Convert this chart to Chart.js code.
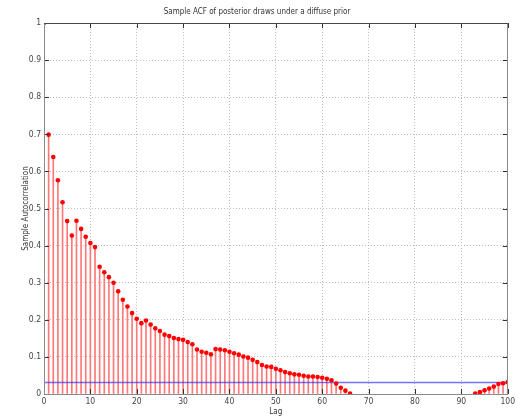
<!DOCTYPE html>
<html>
<head>
<meta charset="utf-8">
<script src="https://cdn.jsdelivr.net/npm/chart.js@4/dist/chart.umd.min.js"></script>
<style>
  html, body { margin: 0; padding: 0; background: #fff; }
  #wrap { width: 518px; height: 418px; }
</style>
</head>
<body>
<div id="wrap"><canvas id="c" width="518" height="418"></canvas></div>
<script>
// Lags 0..100 and the sample autocorrelation at each lag (null where below the axis)
const lags = Array.from({ length: 101 }, (_, i) => i);
const acf = [
  1.000, 0.699, 0.639, 0.576, 0.517, 0.466, 0.427, 0.467, 0.445, 0.424,
  0.407, 0.396, 0.343, 0.328, 0.315, 0.300, 0.277, 0.254, 0.236, 0.218,
  0.203, 0.191, 0.198, 0.187, 0.177, 0.170, 0.160, 0.156, 0.151, 0.148,
  0.146, 0.140, 0.134, 0.120, 0.114, 0.111, 0.107, 0.121, 0.120, 0.118,
  0.114, 0.110, 0.106, 0.101, 0.098, 0.092, 0.086, 0.078, 0.074, 0.073,
  0.068, 0.064, 0.059, 0.056, 0.053, 0.052, 0.049, 0.047, 0.047, 0.046,
  0.044, 0.041, 0.037, 0.028, 0.017, 0.009, 0.001, null, null, null,
  null, null, null, null, null, null, null, null, null, null,
  null, null, null, null, null, null, null, null, null, null,
  null, null, null, 0.001, 0.005, 0.010, 0.015, 0.020, 0.027, 0.029,
  0.032
];
// Upper confidence bound drawn as a horizontal line
const confBound = 0.031;
const boundLags = [0, 100];

const xTicks = [0, 10, 20, 30, 40, 50, 60, 70, 80, 90, 100];
const yTicks = [0, 0.1, 0.2, 0.3, 0.4, 0.5, 0.6, 0.7, 0.8, 0.9, 1];

const FONT = "'Liberation Sans Narrow', 'DejaVu Sans Condensed', 'Arial Narrow', sans-serif";

const points = lags.map((l, i) => ({ x: l, y: acf[i] }));

// Box outline and inward-pointing tick marks
const boxTicks = {
  id: 'boxTicks',
  afterDraw(chart) {
    const { ctx, chartArea: a, scales } = chart;
    ctx.save();
    ctx.lineWidth = 1;
    ctx.strokeStyle = '#333';
    ctx.beginPath();
    xTicks.forEach(v => {
      const px = Math.round(scales.x.getPixelForValue(v)) + 0.5;
      ctx.moveTo(px, a.bottom); ctx.lineTo(px, a.bottom - 5);
      ctx.moveTo(px, a.top); ctx.lineTo(px, a.top + 5);
    });
    yTicks.forEach(v => {
      const py = Math.round(scales.y.getPixelForValue(v)) + 0.5;
      ctx.moveTo(a.left, py); ctx.lineTo(a.left + 5, py);
      ctx.moveTo(a.right, py); ctx.lineTo(a.right - 5, py);
    });
    ctx.stroke();
    // outline
    ctx.strokeStyle = '#8a8a8a';
    ctx.beginPath();
    const L = Math.round(a.left) + 0.5, R = Math.round(a.right) - 0.5;
    const T = Math.round(a.top) + 0.5, B = Math.round(a.bottom) + 0.5;
    ctx.moveTo(L, T); ctx.lineTo(L, B); ctx.lineTo(R, B); ctx.lineTo(R, T);
    ctx.stroke();
    ctx.strokeStyle = '#444';
    ctx.beginPath();
    ctx.moveTo(L, T); ctx.lineTo(R, T);
    ctx.stroke();
    ctx.restore();
  }
};

new Chart(document.getElementById('c'), {
  type: 'bar',
  data: {
    datasets: [
      {
        type: 'bar',
        data: points,
        backgroundColor: '#ff7878',
        barThickness: 1,
        grouped: false,
        order: 3
      },
      {
        type: 'line',
        data: boundLags.map(l => ({ x: l, y: confBound })),
        borderColor: 'rgba(40,40,255,0.65)',
        borderWidth: 1.5,
        pointRadius: 0,
        fill: false,
        order: 2
      },
      {
        type: 'scatter',
        data: points,
        backgroundColor: '#ff0000',
        borderColor: '#ff0000',
        borderWidth: 0,
        pointRadius: 2.3,
        pointStyle: 'circle',
        order: 1
      }
    ]
  },
  options: {
    responsive: false,
    animation: false,
    layout: { padding: { left: 0, right: 4, top: 0, bottom: 0 } },
    plugins: {
      legend: { display: false },
      tooltip: { enabled: false },
      title: {
        display: true,
        text: 'Sample ACF of posterior draws under a diffuse prior',
        color: '#333',
        font: { family: FONT, size: 8, weight: 'normal' },
        padding: { top: 7, bottom: 6.4 }
      }
    },
    scales: {
      x: {
        type: 'linear',
        min: 0,
        max: 100,
        offset: false,
        afterBuildTicks: s => { s.ticks = xTicks.map(v => ({ value: v })); },
        afterFit: s => { s.height = 24; },
        grid: {
          offset: false,
          drawTicks: false,
          color: c => (c.tick && (c.tick.value === 0 || c.tick.value === 100)) ? 'rgba(0,0,0,0)' : '#bcbcbc',
          lineWidth: 1
        },
        border: { display: false, dash: [1, 2] },
        ticks: {
          color: '#444',
          font: { family: FONT, size: 8.5 },
          padding: 3,
          maxRotation: 0,
          callback: v => String(v)
        },
        title: {
          display: true,
          text: 'Lag',
          color: '#333',
          font: { family: FONT, size: 8 },
          padding: { top: 0, bottom: 1.5 }
        }
      },
      y: {
        type: 'linear',
        min: 0,
        max: 1,
        afterBuildTicks: s => { s.ticks = yTicks.map(v => ({ value: v })); },
        afterFit: s => { s.width = 44; },
        grid: {
          drawTicks: false,
          color: c => (c.tick && (c.tick.value === 0 || c.tick.value === 1)) ? 'rgba(0,0,0,0)' : '#bcbcbc',
          lineWidth: 1
        },
        border: { display: false, dash: [1, 2] },
        ticks: {
          color: '#444',
          font: { family: FONT, size: 8.5 },
          padding: 3,
          callback: v => (v === 0 ? '0' : v === 1 ? '1' : v.toFixed(1))
        },
        title: {
          display: true,
          text: 'Sample Autocorrelation',
          color: '#333',
          font: { family: FONT, size: 8 },
          padding: { top: 21.5, bottom: 0 }
        }
      }
    }
  },
  plugins: [boxTicks]
});
</script>
</body>
</html>
